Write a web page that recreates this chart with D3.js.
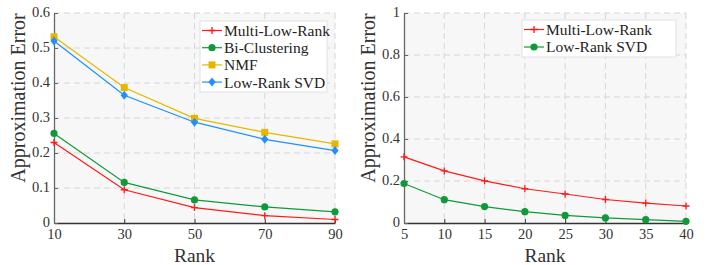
<!DOCTYPE html>
<html><head><meta charset="utf-8">
<script src="https://cdn.jsdelivr.net/npm/d3@7"></script>
<style>
body{margin:0;background:#fff;}
svg{display:block;font-family:"Liberation Serif","Times New Roman",serif;}
</style></head>
<body><svg id="c" width="715" height="265"></svg>
<script>
// ---- data ----
const ranksA = [10, 30, 50, 70, 90];
const multiLowRankA = [0.230, 0.095, 0.044, 0.021, 0.010];
const biClusteringA = [0.256, 0.116, 0.066, 0.046, 0.032];
const nmfA = [0.532, 0.387, 0.299, 0.259, 0.226];
const lowRankSvdA = [0.520, 0.365, 0.288, 0.239, 0.207];
const yTicksA = [0, 0.1, 0.2, 0.3, 0.4, 0.5, 0.6];

const ranksB = [5, 10, 15, 20, 25, 30, 35, 40];
const multiLowRankB = [0.315, 0.248, 0.201, 0.163, 0.138, 0.112, 0.095, 0.081];
const lowRankSvdB = [0.188, 0.111, 0.078, 0.054, 0.036, 0.024, 0.016, 0.008];
const yTicksB = [0, 0.2, 0.4, 0.6, 0.8, 1];

const C = {red:"#ff1a1a", green:"#0f9a3a", yellow:"#e6b700", blue:"#1e90ff"};

const svg = d3.select("#c");

function marker(g, type, color, x, y){
  if(type==="plus"){
    g.append("path").attr("d",`M${x-3.5},${y}H${x+3.5}M${x},${y-3.5}V${y+3.5}`)
      .attr("stroke",color).attr("stroke-width",1.3).attr("fill","none");
  } else if(type==="circle"){
    g.append("circle").attr("cx",x).attr("cy",y).attr("r",3.6).attr("fill",color);
  } else if(type==="square"){
    g.append("rect").attr("x",x-3.5).attr("y",y-3.5).attr("width",7).attr("height",7).attr("fill",color);
  } else if(type==="diamond"){
    g.append("path").attr("d",`M${x},${y-4.5}L${x+3.6},${y}L${x},${y+4.5}L${x-3.6},${y}Z`).attr("fill",color);
  }
}

function panel(opt){
  const {x0,x1,y0,y1,xDomain,yTicks,xTicks,series,legend,ylabelY} = opt;
  const g = svg.append("g");
  const x = d3.scaleLinear().domain(xDomain).range([x0,x1]);
  const y = d3.scaleLinear().domain([0,yTicks[yTicks.length-1]]).range([y1,y0]);
  g.append("rect").attr("x",x0).attr("y",y0).attr("width",x1-x0).attr("height",y1-y0).attr("fill","#f7f7f7");
  // grid
  g.selectAll(".gy").data(yTicks.slice(1)).enter().append("line")
    .attr("x1",x0).attr("x2",x1).attr("y1",d=>y(d)).attr("y2",d=>y(d))
    .attr("stroke","#d6d6d6").attr("stroke-width",1).attr("stroke-dasharray","6,4");
  g.selectAll(".gx").data(xTicks.slice(1)).enter().append("line")
    .attr("x1",d=>x(d)).attr("x2",d=>x(d)).attr("y1",y0).attr("y2",y1)
    .attr("stroke","#d6d6d6").attr("stroke-width",1).attr("stroke-dasharray","6,4");
  // axes
  const ax = g.append("g").attr("transform",`translate(0,${y1})`)
    .call(d3.axisBottom(x).tickValues(xTicks).tickSizeInner(-4).tickSizeOuter(0).tickPadding(6).tickFormat(d3.format("d")));
  const ay = g.append("g").attr("transform",`translate(${x0},0)`)
    .call(d3.axisLeft(y).tickValues(yTicks).tickSizeInner(-4).tickSizeOuter(0).tickPadding(4).tickFormat(d=>d===0?"0":(d===1?"1":d3.format(".1f")(d))));
  ax.select(".domain").attr("stroke","#333").attr("stroke-width",1.3);
  ay.select(".domain").attr("stroke","#666").attr("stroke-width",1.3);
  ax.selectAll(".tick line").attr("stroke","#333");
  ay.selectAll(".tick line").attr("stroke","#666");
  [ax,ay].forEach(a=>a.selectAll("text").attr("font-family","Liberation Serif, serif").attr("font-size",14.5).attr("fill","#333"));
  ay.selectAll("text").attr("dy","0.22em");
  // labels
  g.append("text").attr("x",(x0+x1)/2).attr("y",262).attr("text-anchor","middle")
    .attr("font-size",19.5).attr("fill","#333").text("Rank");
  g.append("text").attr("transform",`translate(${x0-29},${ylabelY}) rotate(-90)`).attr("text-anchor","middle")
    .attr("font-size",20).attr("fill","#333").text("Approximation Error");
  // series
  series.forEach(s=>{
    const line = d3.line().x((d,i)=>x(s.xs[i])).y(d=>y(d));
    g.append("path").datum(s.values).attr("d",line).attr("fill","none").attr("stroke",s.color).attr("stroke-width",1.2);
    s.values.forEach((v,i)=>marker(g,s.marker,s.color,x(s.xs[i]),y(v)));
  });
  // legend
  const L = legend;
  g.append("rect").attr("x",L.x).attr("y",L.y).attr("width",L.w).attr("height",L.h)
    .attr("fill","#fff").attr("stroke","#e2e2e2").attr("stroke-width",1);
  series.forEach((s,i)=>{
    const cy = L.y + L.first + i*L.step;
    g.append("line").attr("x1",L.x+2).attr("x2",L.x+22).attr("y1",cy).attr("y2",cy).attr("stroke",s.color).attr("stroke-width",1.2);
    marker(g,s.marker,s.color,L.x+12,cy);
    g.append("text").attr("x",L.x+24).attr("y",cy).attr("dy","0.35em").attr("font-size",15.5).attr("fill","#222").text(s.name);
  });
}

panel({x0:54,x1:335,y0:13,y1:223,xDomain:[10,90],xTicks:ranksA,yTicks:yTicksA,ylabelY:98,
  series:[
    {name:"Multi-Low-Rank",values:multiLowRankA,xs:ranksA,color:C.red,marker:"plus"},
    {name:"Bi-Clustering",values:biClusteringA,xs:ranksA,color:C.green,marker:"circle"},
    {name:"NMF",values:nmfA,xs:ranksA,color:C.yellow,marker:"square"},
    {name:"Low-Rank SVD",values:lowRankSvdA,xs:ranksA,color:C.blue,marker:"diamond"}
  ],
  legend:{x:200,y:21,w:127,h:71,first:9.5,step:17.2}});

panel({x0:404,x1:686,y0:13,y1:223,xDomain:[5,40],xTicks:ranksB,yTicks:yTicksB,ylabelY:98,
  series:[
    {name:"Multi-Low-Rank",values:multiLowRankB,xs:ranksB,color:C.red,marker:"plus"},
    {name:"Low-Rank SVD",values:lowRankSvdB,xs:ranksB,color:C.green,marker:"circle"}
  ],
  legend:{x:522,y:20,w:154,h:37,first:9.5,step:17.5}});
</script></body></html>
